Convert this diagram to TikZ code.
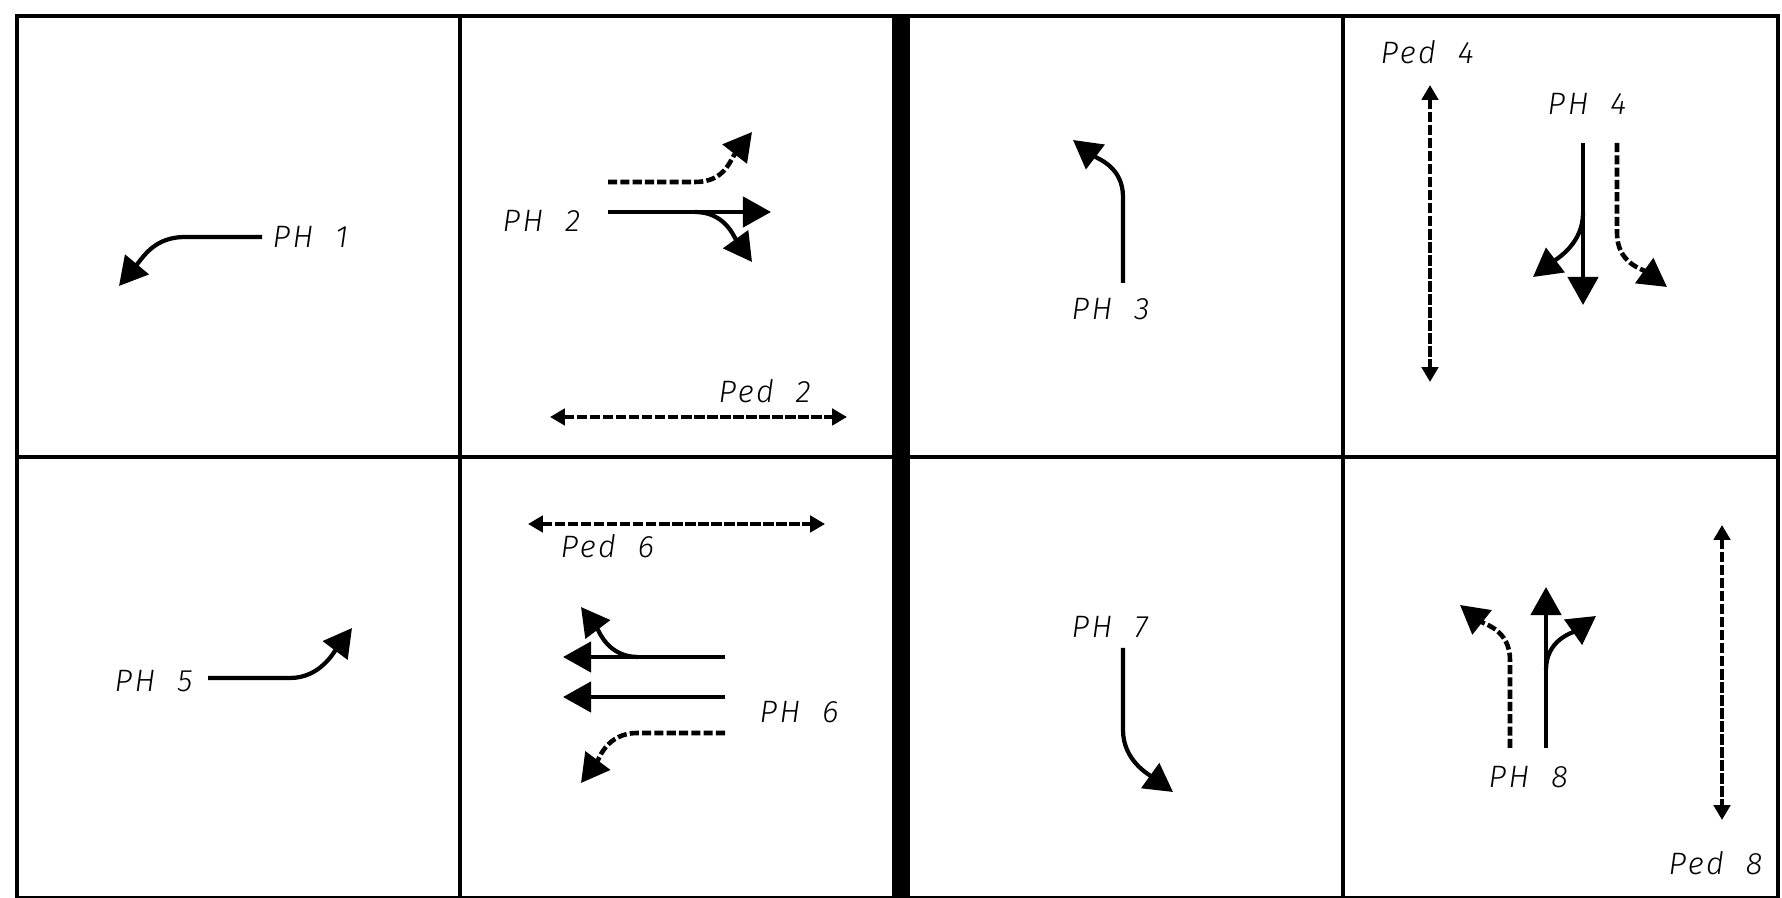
\documentclass[tikz,border=0pt]{standalone}
\usepackage{fontspec}
\IfFontExistsTF{Fira Sans Light}
  {\newfontfamily\phfont{Fira Sans Light}[LetterSpace=8]}
  {\newfontfamily\phfont{Fira Sans}[LetterSpace=8]}
\usetikzlibrary{arrows.meta}

\begin{document}
\begin{tikzpicture}[
    x=0.01cm, y=-0.01cm,
    cell/.style={line width=1.1pt},
    veh/.style={line width=1.2pt, -{Triangle[length=8pt,width=8.6pt]}},
    vehdash/.style={veh, line width=1.3pt, dash pattern=on 2.6pt off 0.9pt},
    ped/.style={line width=1.25pt, dash pattern=on 3pt off 0.7pt,
      {Triangle[length=4.2pt,width=4.6pt]}-{Triangle[length=4.2pt,width=4.6pt]}},
    lbl/.style={font=\phfont\itshape\fontsize{8.8pt}{10pt}\selectfont, inner sep=0pt, anchor=base west}
  ]
  \useasboundingbox (0,0) rectangle (1782,898);

  % Phase grid
  \draw[cell] (17,16) rectangle (1778,898);
  \draw[cell] (17,457) -- (1778,457);
  \draw[cell] (460,16) -- (460,898);
  \draw[cell] (1343,16) -- (1343,898);
  \fill (892,16) rectangle (910,898);

  % Movement points
  \coordinate (p1a) at (262,237);
  \coordinate (p1b) at (185,237);
  \coordinate (p1c) at (119,286);
  \coordinate (p2a) at (608,182);
  \coordinate (p2b) at (695,182);
  \coordinate (p2c) at (752,132);
  \coordinate (p2d) at (608,212);
  \coordinate (p2e) at (695,212);
  \coordinate (p2f) at (771,212);
  \coordinate (p2g) at (752,262);
  \coordinate (q2a) at (550,417);
  \coordinate (q2b) at (847,417);
  \coordinate (p3a) at (1123,283);
  \coordinate (p3b) at (1123,197);
  \coordinate (p3c) at (1073,140);
  \coordinate (q4a) at (1430,85);
  \coordinate (q4b) at (1430,382);
  \coordinate (p4a) at (1583,143);
  \coordinate (p4b) at (1583,213);
  \coordinate (p4c) at (1583,305);
  \coordinate (p4d) at (1533,277);
  \coordinate (p4e) at (1617,143);
  \coordinate (p4f) at (1617,233);
  \coordinate (p4g) at (1667,287);
  \coordinate (p5a) at (208,678);
  \coordinate (p5b) at (290,678);
  \coordinate (p5c) at (352,628);
  \coordinate (q6a) at (528,524);
  \coordinate (q6b) at (825,524);
  \coordinate (p6a) at (725,657);
  \coordinate (p6b) at (638,657);
  \coordinate (p6c) at (563,657);
  \coordinate (p6d) at (581,607);
  \coordinate (p6e) at (725,697);
  \coordinate (p6f) at (563,697);
  \coordinate (p6g) at (725,733);
  \coordinate (p6h) at (637,733);
  \coordinate (p6i) at (581,783);
  \coordinate (p7a) at (1123,648);
  \coordinate (p7b) at (1123,730);
  \coordinate (p7c) at (1173,792);
  \coordinate (p8a) at (1510,748);
  \coordinate (p8b) at (1510,660);
  \coordinate (p8c) at (1460,605);
  \coordinate (p8d) at (1546,748);
  \coordinate (p8e) at (1546,670);
  \coordinate (p8f) at (1546,587);
  \coordinate (p8g) at (1596,616);
  \coordinate (q8a) at (1722,525);
  \coordinate (q8b) at (1722,820);

  % Labels
  \node[lbl] (ph1) at (272,248) {PH~~1};
  \node[lbl] (ph2) at (502,232) {PH~~2};
  \node[lbl] (ped2) at (718,403) {Ped~~2};
  \node[lbl] (ph3) at (1071,320) {PH~~3};
  \node[lbl] (ped4) at (1380,64) {Ped~~4};
  \node[lbl] (ph4) at (1547,115) {PH~~4};
  \node[lbl] (ph5) at (114,692) {PH~~5};
  \node[lbl] (ped6) at (560,558) {Ped~~6};
  \node[lbl] (ph6) at (759,723) {PH~~6};
  \node[lbl] (ph7) at (1071,638) {PH~~7};
  \node[lbl] (ph8) at (1488,788) {PH~~8};
  \node[lbl] (ped8) at (1668,875) {Ped~~8};

  % Phase 1
  \draw[veh] (p1a) -- (p1b) .. controls +(-30,0) and +(25,-30) .. (p1c);
  % Phase 2
  \draw[vehdash] (p2a) -- (p2b) .. controls +(30,0) and +(-22,28) .. (p2c);
  \draw[veh] (p2d) -- (p2f);
  \draw[veh] (p2e) .. controls +(30,0) and +(-18,-25) .. (p2g);
  \draw[ped] (q2a) -- (q2b);
  % Phase 3
  \draw[veh] (p3a) -- (p3b) .. controls +(0,-30) and +(25,19) .. (p3c);
  % Phase 4
  \draw[ped] (q4a) -- (q4b);
  \draw[veh] (p4a) -- (p4c);
  \draw[veh] (p4b) .. controls +(0,30) and +(25,-19) .. (p4d);
  \draw[vehdash] (p4e) -- (p4f) .. controls +(0,30) and +(-25,-18) .. (p4g);
  % Phase 5
  \draw[veh] (p5a) -- (p5b) .. controls +(30,0) and +(-18,24) .. (p5c);
  % Phase 6
  \draw[ped] (q6a) -- (q6b);
  \draw[veh] (p6a) -- (p6c);
  \draw[veh] (p6b) .. controls +(-30,0) and +(18,24) .. (p6d);
  \draw[veh] (p6e) -- (p6f);
  \draw[vehdash] (p6g) -- (p6h) .. controls +(-30,0) and +(18,-24) .. (p6i);
  % Phase 7
  \draw[veh] (p7a) -- (p7b) .. controls +(0,30) and +(-25,-18) .. (p7c);
  % Phase 8
  \draw[vehdash] (p8a) -- (p8b) .. controls +(0,-30) and +(24,19) .. (p8c);
  \draw[veh] (p8d) -- (p8f);
  \draw[veh] (p8e) .. controls +(0,-30) and +(-24,17) .. (p8g);
  \draw[ped] (q8a) -- (q8b);
\end{tikzpicture}
\end{document}
